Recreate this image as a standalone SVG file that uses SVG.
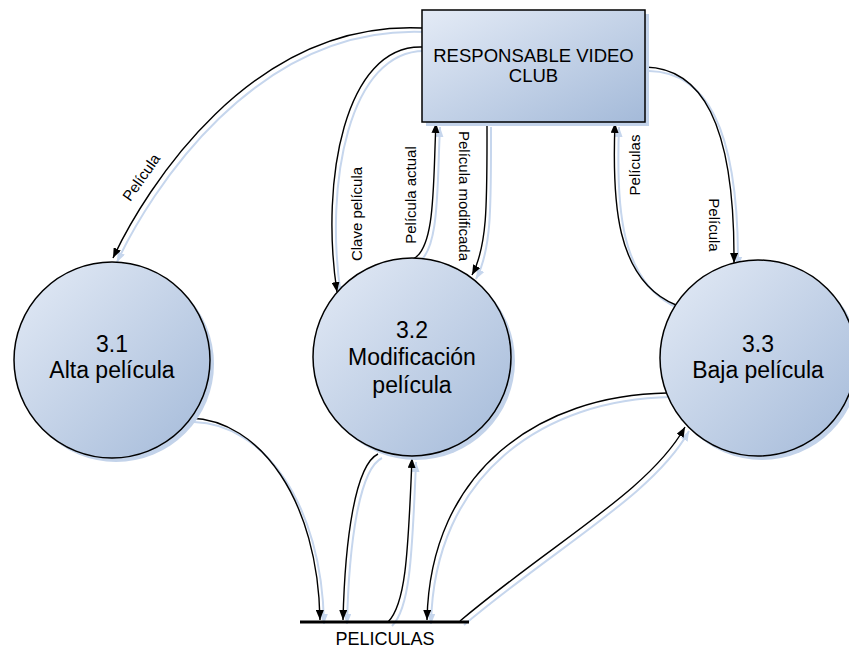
<svg xmlns="http://www.w3.org/2000/svg" width="849" height="657" viewBox="0 0 849 657">
  <defs>
    <linearGradient id="fillGrad" x1="0" y1="0" x2="1" y2="1">
      <stop offset="0" stop-color="#e4ebf6"/>
      <stop offset="1" stop-color="#a4bad9"/>
    </linearGradient>
    <marker id="arrow" viewBox="0 0 10 8" refX="10" refY="4" markerWidth="10" markerHeight="8" markerUnits="userSpaceOnUse" orient="auto">
      <path d="M0,0 L10,4 L0,8 Z" fill="#000"/>
    </marker>
    <marker id="arrowShadow" viewBox="0 0 10 8" refX="10" refY="4" markerWidth="10" markerHeight="8" markerUnits="userSpaceOnUse" orient="auto">
      <path d="M0,0 L10,4 L0,8 Z" fill="#c6d6ed"/>
    </marker>
  </defs>
  <style>
    .shape { fill: url(#fillGrad); stroke: #000; stroke-width: 1.5; }
    .shadow { fill: #c3d3ea; stroke: none; }
    .flow { fill: none; stroke: #000; stroke-width: 1.4; marker-end: url(#arrow); }
    .flowShadow { fill: none; stroke: #c6d6ed; stroke-width: 2; marker-end: url(#arrowShadow); }
    .title { font-family: "Liberation Sans", Arial, sans-serif; font-size: 23px; fill: #000; text-anchor: middle; }
    .ext { font-family: "Liberation Sans", Arial, sans-serif; font-size: 18.5px; fill: #000; text-anchor: middle; }
    .label { font-family: "Liberation Sans", Arial, sans-serif; font-size: 15px; fill: #000; text-anchor: middle; }
    .store { font-family: "Liberation Sans", Arial, sans-serif; font-size: 18px; fill: #000; text-anchor: middle; }
  </style>

  <!-- connectors: light shadow copy first, then the black lines -->
  <g id="connectors">
    <g transform="translate(4,4)">
      <path class="flowShadow" d="M422,28 C250,20 145,190 113,258"/>
      <path class="flowShadow" d="M422,47 C345,45 320,180 337,292"/>
      <path class="flowShadow" d="M413,259 C436,248 433,180 436,123"/>
      <path class="flowShadow" d="M487,123 C487,200 488,245 472,275"/>
      <path class="flowShadow" d="M676,305 C615,280 612,200 615,123"/>
      <path class="flowShadow" d="M645,67 C700,68 735,120 734,263"/>
      <path class="flowShadow" d="M190,418 C260,420 318,500 320,620"/>
      <path class="flowShadow" d="M378,454 C355,465 345,540 343,620"/>
      <path class="flowShadow" d="M388,622 C405,605 408,560 412,458"/>
      <path class="flowShadow" d="M667,393 C540,395 430,470 427,620"/>
      <path class="flowShadow" d="M460,621 C555,541 650,490 685,427"/>
    </g>
    <path class="flow" d="M422,28 C250,20 145,190 113,258"/>
    <path class="flow" d="M422,47 C345,45 320,180 337,292"/>
    <path class="flow" d="M413,259 C436,248 433,180 436,123"/>
    <path class="flow" d="M487,123 C487,200 488,245 472,275"/>
    <path class="flow" d="M676,305 C615,280 612,200 615,123"/>
    <path class="flow" d="M645,67 C700,68 735,120 734,263"/>
    <path class="flow" d="M190,418 C260,420 318,500 320,620"/>
    <path class="flow" d="M378,454 C355,465 345,540 343,620"/>
    <path class="flow" d="M388,622 C405,605 408,560 412,458"/>
    <path class="flow" d="M667,393 C540,395 430,470 427,620"/>
    <path class="flow" d="M460,621 C555,541 650,490 685,427"/>

    <text class="label" transform="translate(141.5,177.5) rotate(-55)" y="5">Película</text>
    <text class="label" transform="translate(357,214) rotate(-90)" y="5">Clave película</text>
    <text class="label" transform="translate(411,195) rotate(-90)" y="5">Película actual</text>
    <text class="label" transform="translate(464,196) rotate(90)" y="5">Película modificada</text>
    <text class="label" transform="translate(635,165) rotate(-90)" y="5">Películas</text>
    <text class="label" transform="translate(714,225) rotate(90)" y="5">Película</text>
  </g>

  <!-- external entity -->
  <g id="responsable">
    <rect class="shadow" x="426" y="14" width="223" height="112"/>
    <rect class="shape" x="422" y="10" width="223" height="112"/>
    <text class="ext" x="533.5" y="62">RESPONSABLE VIDEO</text>
    <text class="ext" x="533.5" y="82">CLUB</text>
  </g>

  <!-- processes -->
  <g id="p31">
    <circle class="shadow" cx="116" cy="364" r="98"/>
    <circle class="shape" cx="112" cy="360" r="98"/>
    <text class="title" x="112" y="352">3.1</text>
    <text class="title" x="112" y="378">Alta película</text>
  </g>
  <g id="p32">
    <circle class="shadow" cx="416" cy="361" r="99"/>
    <circle class="shape" cx="412" cy="357" r="99"/>
    <text class="title" x="412" y="338">3.2</text>
    <text class="title" x="412" y="365">Modificación</text>
    <text class="title" x="412" y="393">película</text>
  </g>
  <g id="p33">
    <circle class="shadow" cx="762" cy="362" r="98"/>
    <circle class="shape" cx="758" cy="358" r="98"/>
    <text class="title" x="758" y="352">3.3</text>
    <text class="title" x="758" y="378">Baja película</text>
  </g>

  <!-- data store -->
  <g id="peliculas">
    <line x1="300" y1="622" x2="469" y2="622" stroke="#000" stroke-width="3"/>
    <text class="store" x="385" y="645">PELICULAS</text>
  </g>
</svg>
